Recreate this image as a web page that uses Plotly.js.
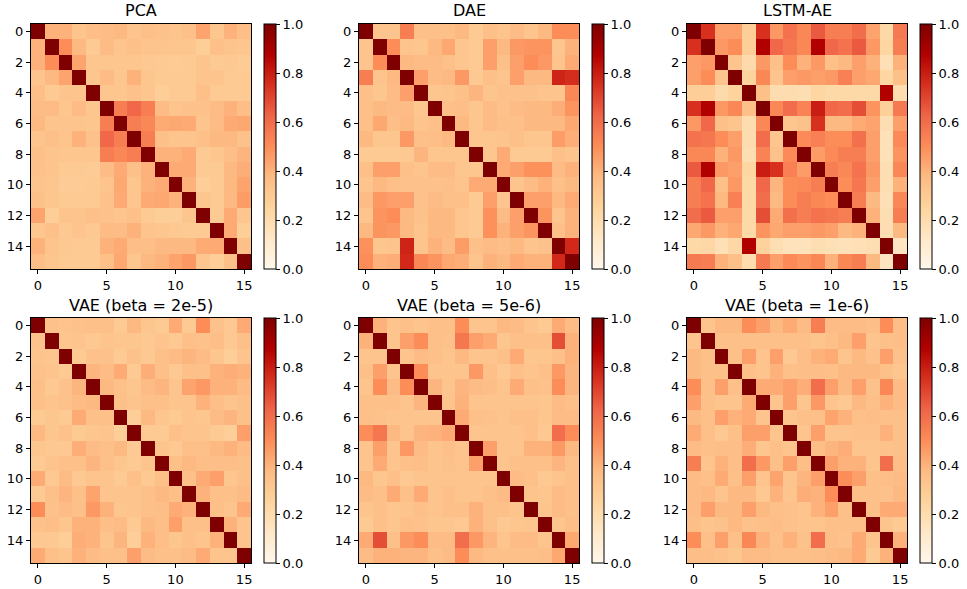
<!DOCTYPE html>
<html>
<head>
<meta charset="utf-8">
<script src="https://cdn.plot.ly/plotly-3.0.1.min.js"></script>
<style>body{margin:0;padding:0;background:#fff;}#chart{width:967px;height:589px;}</style>
</head>
<body>
<div id="chart"></div>
<script>
// Panel titles
var titles = ["PCA", "DAE", "LSTM-AE", "VAE (beta = 2e-5)", "VAE (beta = 5e-6)", "VAE (beta = 1e-6)"];
// Feature indices (0..15)
var idx = [0,1,2,3,4,5,6,7,8,9,10,11,12,13,14,15];
var xTicks = [0,5,10,15];
var yTicks = [0,2,4,6,8,10,12,14];
var cbTicks = [0,0.2,0.4,0.6,0.8,1.0];

var pca = [
[1,.40,.40,.33,.36,.37,.38,.33,.35,.34,.33,.35,.44,.32,.40,.36],
[.40,1,.50,.38,.30,.37,.33,.35,.33,.33,.32,.32,.28,.35,.33,.32],
[.40,.50,1,.44,.32,.32,.32,.32,.31,.30,.29,.30,.33,.30,.31,.29],
[.33,.38,.44,1,.32,.37,.32,.40,.32,.30,.30,.30,.33,.33,.30,.30],
[.36,.30,.33,.33,1,.32,.32,.34,.32,.28,.30,.30,.35,.30,.30,.30],
[.37,.37,.32,.37,.32,1,.55,.62,.55,.37,.33,.34,.34,.37,.40,.36],
[.38,.33,.33,.33,.32,.55,1,.55,.52,.42,.43,.42,.33,.37,.42,.43],
[.33,.35,.33,.40,.34,.62,.55,1,.55,.35,.33,.33,.35,.38,.38,.34],
[.35,.33,.32,.32,.32,.55,.52,.55,1,.40,.40,.42,.30,.32,.36,.39],
[.34,.33,.30,.30,.29,.37,.42,.35,.40,1,.42,.42,.30,.30,.38,.41],
[.33,.32,.29,.29,.30,.33,.43,.32,.40,.42,1,.40,.28,.30,.38,.44],
[.35,.32,.30,.30,.30,.34,.42,.32,.42,.43,.40,1,.32,.30,.38,.46],
[.44,.28,.33,.33,.35,.34,.33,.35,.30,.28,.28,.32,1,.30,.42,.32],
[.32,.35,.31,.33,.31,.37,.37,.40,.33,.32,.31,.30,.30,1,.42,.28],
[.40,.33,.31,.30,.30,.40,.42,.36,.36,.38,.38,.38,.42,.42,1,.35],
[.36,.32,.30,.30,.30,.35,.43,.32,.38,.40,.44,.47,.32,.28,.35,1]
];

var dae = [
[1,.33,.33,.55,.35,.35,.35,.38,.30,.35,.33,.37,.33,.38,.50,.50],
[.33,1,.50,.33,.32,.38,.43,.32,.30,.45,.38,.47,.48,.48,.32,.40],
[.33,.50,1,.38,.37,.37,.35,.32,.30,.45,.35,.45,.50,.47,.33,.42],
[.55,.33,.38,1,.45,.37,.38,.47,.31,.35,.33,.45,.38,.38,.78,.76],
[.35,.32,.37,.45,1,.32,.33,.35,.39,.33,.34,.34,.34,.33,.33,.52],
[.35,.38,.37,.37,.32,1,.35,.36,.32,.37,.34,.37,.38,.38,.41,.48],
[.35,.43,.36,.38,.33,.35,1,.38,.32,.37,.35,.35,.38,.38,.38,.43],
[.38,.32,.32,.47,.35,.36,.38,1,.32,.32,.33,.35,.32,.32,.46,.41],
[.30,.30,.30,.31,.39,.32,.32,.32,1,.32,.42,.30,.30,.30,.35,.33],
[.35,.45,.45,.35,.33,.37,.37,.32,.32,1,.42,.45,.49,.49,.37,.40],
[.33,.38,.35,.34,.34,.34,.35,.33,.42,.42,1,.33,.37,.40,.35,.38],
[.37,.47,.45,.45,.34,.37,.35,.35,.30,.45,.33,1,.45,.45,.38,.42],
[.33,.48,.50,.38,.34,.38,.38,.32,.30,.49,.37,.45,1,.48,.33,.40],
[.38,.48,.47,.38,.33,.38,.38,.32,.30,.49,.40,.45,.48,1,.35,.40],
[.49,.32,.33,.78,.33,.40,.37,.46,.35,.37,.36,.38,.33,.34,1,.77],
[.50,.40,.41,.77,.52,.48,.43,.41,.33,.40,.38,.42,.40,.40,.77,1]
];

var lstm = [
[1,.75,.45,.45,.28,.75,.47,.58,.52,.65,.55,.55,.60,.44,.22,.56],
[.75,1,.47,.50,.28,.88,.62,.57,.52,.88,.62,.58,.65,.47,.24,.55],
[.45,.47,1,.33,.21,.47,.35,.50,.40,.47,.35,.38,.45,.40,.18,.40],
[.45,.50,.33,1,.25,.52,.33,.45,.47,.45,.47,.54,.45,.43,.24,.35],
[.28,.28,.21,.25,1,.35,.20,.20,.19,.24,.22,.22,.22,.22,.88,.20],
[.75,.88,.47,.52,.35,1,.52,.60,.53,.80,.62,.60,.68,.48,.27,.56],
[.47,.62,.35,.33,.20,.52,1,.32,.34,.75,.38,.38,.42,.44,.19,.45],
[.58,.57,.50,.45,.20,.60,.32,1,.51,.54,.50,.50,.59,.45,.17,.51],
[.52,.52,.40,.47,.19,.53,.34,.51,1,.46,.51,.55,.55,.45,.17,.48],
[.65,.88,.47,.45,.24,.80,.75,.54,.46,1,.55,.52,.58,.47,.19,.52],
[.55,.62,.35,.47,.22,.62,.39,.50,.51,.55,1,.50,.57,.45,.19,.40],
[.55,.58,.38,.54,.22,.60,.38,.50,.55,.52,.50,1,.55,.38,.18,.52],
[.60,.65,.45,.45,.22,.68,.42,.59,.55,.58,.57,.55,1,.40,.19,.55],
[.43,.47,.40,.43,.22,.48,.43,.45,.45,.47,.45,.38,.40,1,.19,.38],
[.22,.23,.18,.23,.88,.26,.19,.16,.16,.19,.18,.17,.18,.19,1,.15],
[.56,.55,.40,.35,.20,.56,.45,.51,.48,.52,.40,.52,.55,.38,.15,1]
];

var vae2e5 = [
[1,.34,.33,.34,.35,.35,.30,.38,.32,.30,.42,.30,.50,.34,.31,.42],
[.34,1,.32,.33,.31,.33,.32,.32,.31,.33,.31,.35,.34,.36,.31,.35],
[.33,.32,1,.30,.34,.34,.30,.34,.31,.35,.37,.39,.37,.32,.28,.33],
[.34,.33,.30,1,.39,.37,.42,.30,.41,.35,.31,.35,.35,.40,.41,.40],
[.35,.31,.34,.39,1,.38,.35,.32,.37,.39,.33,.44,.47,.40,.40,.37],
[.35,.33,.34,.37,.38,1,.35,.33,.35,.35,.33,.33,.40,.36,.33,.35],
[.30,.32,.30,.42,.35,.35,1,.28,.38,.32,.30,.33,.32,.37,.39,.35],
[.38,.32,.34,.30,.32,.33,.28,1,.30,.30,.35,.33,.33,.30,.28,.45],
[.32,.31,.31,.41,.37,.35,.38,.30,1,.33,.31,.35,.35,.38,.40,.37],
[.30,.33,.35,.35,.39,.35,.32,.30,.33,1,.35,.38,.36,.36,.36,.35],
[.42,.31,.37,.31,.33,.33,.30,.35,.31,.35,1,.35,.42,.45,.32,.35],
[.30,.35,.39,.35,.44,.33,.33,.33,.35,.38,.35,1,.40,.35,.35,.37],
[.50,.34,.37,.35,.47,.40,.32,.33,.35,.36,.42,.40,1,.35,.33,.42],
[.34,.36,.32,.40,.40,.36,.37,.30,.38,.36,.45,.35,.35,1,.40,.33],
[.31,.31,.28,.41,.40,.33,.39,.28,.40,.36,.32,.35,.33,.40,1,.33],
[.42,.35,.33,.40,.37,.35,.35,.45,.37,.35,.35,.37,.42,.33,.33,1]
];

var vae5e6 = [
[1,.40,.33,.35,.33,.35,.35,.50,.33,.33,.38,.37,.33,.30,.42,.37],
[.40,1,.33,.45,.50,.35,.34,.57,.45,.42,.32,.35,.35,.35,.68,.40],
[.33,.33,1,.33,.37,.35,.33,.38,.33,.33,.35,.42,.32,.32,.35,.40],
[.35,.45,.33,1,.50,.33,.33,.33,.47,.35,.31,.35,.33,.35,.47,.39],
[.33,.50,.37,.50,1,.39,.33,.39,.37,.36,.33,.42,.35,.34,.50,.39],
[.35,.35,.35,.33,.39,1,.33,.40,.33,.33,.33,.33,.33,.32,.37,.35],
[.35,.34,.33,.33,.33,.33,1,.42,.35,.34,.33,.35,.35,.32,.37,.37],
[.50,.57,.38,.33,.39,.40,.42,1,.33,.33,.33,.33,.35,.31,.60,.50],
[.33,.45,.33,.47,.37,.33,.35,.33,1,.45,.33,.33,.40,.40,.47,.38],
[.33,.42,.33,.35,.36,.33,.34,.33,.45,1,.33,.35,.35,.35,.39,.35],
[.38,.32,.35,.31,.33,.33,.33,.33,.33,.33,1,.37,.35,.31,.33,.35],
[.37,.35,.42,.35,.42,.33,.35,.33,.33,.35,.37,1,.33,.32,.37,.35],
[.33,.35,.32,.33,.35,.33,.35,.35,.40,.35,.35,.33,1,.33,.37,.35],
[.30,.35,.32,.35,.34,.32,.32,.31,.40,.35,.31,.32,.33,1,.33,.36],
[.42,.68,.35,.47,.50,.37,.37,.60,.47,.39,.33,.37,.37,.33,1,.43],
[.37,.40,.40,.39,.39,.35,.37,.50,.38,.35,.35,.35,.35,.36,.43,1]
];

var vae1e6 = [
[1,.33,.38,.38,.50,.45,.38,.42,.37,.55,.37,.37,.37,.36,.50,.36],
[.33,1,.35,.35,.35,.35,.35,.35,.35,.33,.35,.38,.45,.33,.35,.36],
[.38,.35,1,.35,.45,.33,.45,.31,.36,.40,.42,.33,.38,.34,.45,.34],
[.38,.35,.35,1,.35,.33,.40,.35,.36,.36,.35,.38,.38,.38,.35,.32],
[.50,.35,.45,.35,1,.42,.42,.45,.41,.60,.45,.38,.45,.34,.52,.37],
[.45,.35,.33,.33,.42,1,.33,.45,.32,.47,.33,.31,.38,.35,.40,.37],
[.38,.35,.45,.40,.42,.33,1,.33,.35,.35,.44,.40,.35,.36,.35,.35],
[.42,.35,.31,.35,.45,.45,.33,1,.33,.45,.33,.33,.34,.34,.40,.35],
[.37,.35,.36,.36,.41,.32,.35,.33,1,.36,.39,.41,.33,.33,.34,.35],
[.55,.33,.40,.36,.60,.47,.35,.45,.36,1,.45,.40,.40,.33,.60,.36],
[.37,.35,.42,.35,.45,.33,.44,.33,.39,.45,1,.50,.45,.35,.36,.37],
[.37,.38,.33,.38,.38,.31,.40,.33,.41,.40,.50,1,.35,.35,.34,.38],
[.37,.45,.38,.38,.45,.38,.35,.34,.33,.40,.45,.35,1,.35,.42,.42],
[.36,.33,.34,.38,.34,.35,.36,.34,.33,.33,.35,.35,.35,1,.33,.30],
[.50,.35,.45,.35,.52,.40,.35,.40,.34,.60,.36,.34,.42,.33,1,.40],
[.36,.36,.34,.32,.37,.37,.35,.35,.35,.36,.37,.38,.42,.30,.40,1]
];

var matrices = [pca, dae, lstm, vae2e5, vae5e6, vae1e6];

// matplotlib OrRd
var orRd = [
  [0.0, '#fff7ec'], [0.125, '#fee8c8'], [0.25, '#fdd49e'], [0.375, '#fdbb84'],
  [0.5, '#fc8d59'], [0.625, '#ef6548'], [0.75, '#d7301f'], [0.875, '#b30000'], [1.0, '#7f0000']
];

var W = 967, H = 589;
var colsPx = [[31, 251], [359, 579], [687, 907]];
var cbLeftPx = [264, 592, 920];
var rowsPx = [[24, 269], [318, 563]];
var titleYPx = [11, 305];
var font = {family: 'DejaVu Sans, sans-serif', size: 13, color: '#000'};

var data = [];
var layout = {
  width: W, height: H,
  margin: {l: 0, r: 0, t: 0, b: 0},
  paper_bgcolor: '#fff', plot_bgcolor: '#fff',
  font: font,
  showlegend: false,
  annotations: []
};

for (var i = 0; i < 6; i++) {
  var r = Math.floor(i / 3), c = i % 3;
  var n = i + 1;
  var xa = 'x' + (n === 1 ? '' : n), ya = 'y' + (n === 1 ? '' : n);
  var yTop = 1 - rowsPx[r][0] / H, yBot = 1 - rowsPx[r][1] / H;
  data.push({
    type: 'heatmap',
    z: matrices[i], x: idx, y: idx,
    xaxis: xa, yaxis: ya,
    colorscale: orRd, zmin: 0, zmax: 1,
    hoverinfo: 'z',
    colorbar: {
      x: cbLeftPx[c] / W, xanchor: 'left',
      y: (yTop + yBot) / 2, yanchor: 'middle',
      len: yTop - yBot, lenmode: 'fraction',
      thickness: 12, thicknessmode: 'pixels',
      xpad: 0, ypad: 0,
      outlinewidth: 1, outlinecolor: '#000',
      tickvals: cbTicks, tickformat: '.1f',
      ticks: 'outside', ticklen: 4, tickwidth: 1, tickcolor: '#000',
      tickfont: font
    }
  });
  var xKey = 'xaxis' + (n === 1 ? '' : n), yKey = 'yaxis' + (n === 1 ? '' : n);
  layout[xKey] = {
    domain: [colsPx[c][0] / W, colsPx[c][1] / W],
    anchor: ya, range: [-0.5, 15.5],
    tickvals: xTicks, ticks: 'outside', ticklen: 4, tickwidth: 1, tickcolor: '#000',
    showline: true, mirror: true, linecolor: '#000', linewidth: 1,
    showgrid: false, zeroline: false, tickfont: font
  };
  layout[yKey] = {
    domain: [yBot, yTop],
    anchor: xa, range: [15.5, -0.5],
    tickvals: yTicks, ticks: 'outside', ticklen: 4, tickwidth: 1, tickcolor: '#000',
    showline: true, mirror: true, linecolor: '#000', linewidth: 1,
    showgrid: false, zeroline: false, tickfont: font
  };
  layout.annotations.push({
    text: titles[i], xref: 'paper', yref: 'paper',
    x: (colsPx[c][0] + colsPx[c][1]) / 2 / W, y: 1 - titleYPx[r] / H,
    xanchor: 'center', yanchor: 'middle', showarrow: false,
    font: {family: 'DejaVu Sans, sans-serif', size: 16, color: '#000'}
  });
}

Plotly.newPlot('chart', data, layout, {displayModeBar: false, staticPlot: true});
</script>
</body>
</html>
